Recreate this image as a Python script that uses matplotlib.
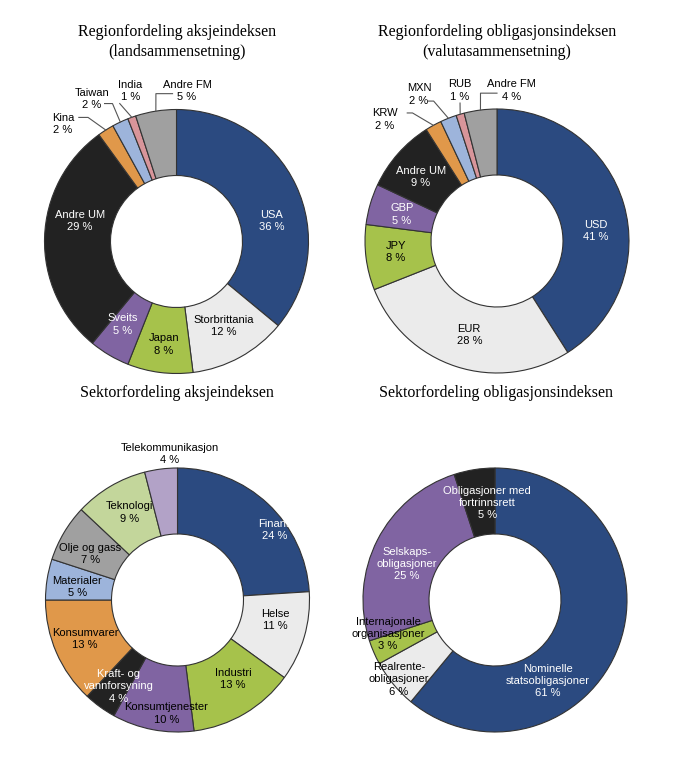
import matplotlib
matplotlib.use("Agg")
import matplotlib.pyplot as plt
import numpy as np

# --- data -------------------------------------------------------------
land_names = ["USA", "Storbrittania", "Japan", "Sveits", "Andre UM",
              "Kina", "Taiwan", "India", "Andre FM"]
land_values = [36, 12, 8, 5, 29, 2, 2, 1, 5]

valuta_names = ["USD", "EUR", "JPY", "GBP", "Andre UM",
                "KRW", "MXN", "RUB", "Andre FM"]
valuta_values = [41, 28, 8, 5, 9, 2, 2, 1, 4]

sektor_aksje_names = ["Finans", "Helse", "Industri", "Konsumtjenester",
                      "Kraft- og\nvannforsyning", "Konsumvarer", "Materialer",
                      "Olje og gass", "Teknologi", "Telekommunikasjon"]
sektor_aksje_values = [24, 11, 13, 10, 4, 13, 5, 7, 9, 4]

sektor_obl_names = ["Nominelle\nstatsobligasjoner", "Realrente-\nobligasjoner",
                    "Internajonale\norganisasjoner", "Selskaps-\nobligasjoner",
                    "Obligasjoner med\nfortrinnsrett"]
sektor_obl_values = [61, 6, 3, 25, 5]

titles = ["Regionfordeling aksjeindeksen\n(landsammensetning)",
          "Regionfordeling obligasjonsindeksen\n(valutasammensetning)",
          "Sektorfordeling aksjeindeksen",
          "Sektorfordeling obligasjonsindeksen"]

# --- style ------------------------------------------------------------
BLUE = "#2B4A80"
LGRAY = "#EBEBEB"
GREEN = "#A6C24B"
PURPLE = "#8064A2"
BLACK = "#222222"
ORANGE = "#E0984A"
LBLUE = "#9DB4DB"
PINK = "#D8959A"
GRAY = "#A0A0A0"
LGREEN = "#C3D69B"
LAVENDER = "#B2A2C7"
EDGE = "#333333"
W, H = 674, 780
R = 132  # outer radius in pixels
S = 1.45  # half-width of each axes in radius units

plt.rcParams["font.family"] = ["Liberation Sans", "DejaVu Sans"]

fig = plt.figure(figsize=(W / 100, H / 100), dpi=100)
fig.patch.set_facecolor("white")


def donut(cx, cy, names, values, colors, tcolors, label_pos, leaders):
    ax = fig.add_axes([(cx - S * R) / W, (H - cy - S * R) / H,
                       2 * S * R / W, 2 * S * R / H])
    wedges, _ = ax.pie(values, colors=colors, startangle=90, counterclock=False,
                       radius=1, wedgeprops=dict(width=0.5, edgecolor=EDGE,
                                                 linewidth=0.8))
    ax.set_xlim(-S, S)
    ax.set_ylim(-S, S)
    ax.set_frame_on(False)
    for name, v, (x, y), tc in zip(names, values, label_pos, tcolors):
        ax.text(x, y, f"{name}\n{v} %", ha="center", va="center", color=tc,
                fontsize=8, linespacing=1.3)
    # leader lines from label to the middle of the wedge's outer edge
    for idx, pts in leaders.items():
        w = wedges[idx]
        ang = np.deg2rad((w.theta1 + w.theta2) / 2)
        xs = [p[0] for p in pts] + [np.cos(ang)]
        ys = [p[1] for p in pts] + [np.sin(ang)]
        ax.plot(xs, ys, color="#555555", lw=0.8, clip_on=False)
    return ax


# Regionfordeling aksjeindeksen
donut(176.5, 241.5, land_names, land_values,
      [BLUE, LGRAY, GREEN, PURPLE, BLACK, ORANGE, LBLUE, PINK, GRAY],
      ["white", "black", "black", "white", "white", "black", "black", "black", "black"],
      [(0.72, 0.155), (0.36, -0.64), (-0.095, -0.78), (-0.41, -0.63),
       (-0.73, 0.155), (-0.86, 0.89), (-0.64, 1.08), (-0.35, 1.14), (0.08, 1.14)],
      {5: [(-0.74, 0.94), (-0.67, 0.94)],
       6: [(-0.545, 1.045), (-0.485, 1.045)],
       7: [(-0.43, 1.045)],
       8: [(-0.03, 1.12), (-0.156, 1.12)]})

# Regionfordeling obligasjonsindeksen
donut(497, 241, valuta_names, valuta_values,
      [BLUE, LGRAY, GREEN, PURPLE, BLACK, ORANGE, LBLUE, PINK, GRAY],
      ["white", "black", "black", "white", "white", "black", "black", "black", "black"],
      [(0.75, 0.076), (-0.21, -0.71), (-0.765, -0.083), (-0.72, 0.2),
       (-0.576, 0.485), (-0.85, 0.92), (-0.59, 1.11), (-0.28, 1.14), (0.11, 1.14)],
      {5: [(-0.68, 0.97), (-0.64, 0.97)],
       6: [(-0.52, 1.06), (-0.48, 1.06)],
       7: [(-0.28, 1.045)],
       8: [(0.0, 1.12), (-0.125, 1.12)]})

# Sektorfordeling aksjeindeksen
donut(177.5, 600, sektor_aksje_names, sektor_aksje_values,
      [BLUE, LGRAY, GREEN, PURPLE, BLACK, ORANGE, LBLUE, GRAY, LGREEN, LAVENDER],
      ["white", "black", "black", "black", "white", "black", "black", "black",
       "black", "black"],
      [(0.735, 0.53), (0.74, -0.15), (0.42, -0.6), (-0.083, -0.86),
       (-0.447, -0.655), (-0.70, -0.295), (-0.76, 0.1), (-0.66, 0.35),
       (-0.364, 0.663), (-0.06, 1.106)],
      {})

# Sektorfordeling obligasjonsindeksen
donut(495, 600, sektor_obl_names, sektor_obl_values,
      [BLUE, LGRAY, GREEN, PURPLE, BLACK],
      ["white", "black", "black", "white", "white"],
      [(0.40, -0.614), (-0.727, -0.60), (-0.811, -0.258), (-0.667, 0.273),
       (-0.06, 0.735)],
      {})

# titles
for (x, y), t in zip([(177, 42), (497, 42), (177, 393), (496, 393)], titles):
    fig.text(x / W, 1 - y / H, t, ha="center", va="center", fontsize=11.5,
             family="Liberation Serif", linespacing=1.3)

fig.savefig("out.png", dpi=100, facecolor="white")
